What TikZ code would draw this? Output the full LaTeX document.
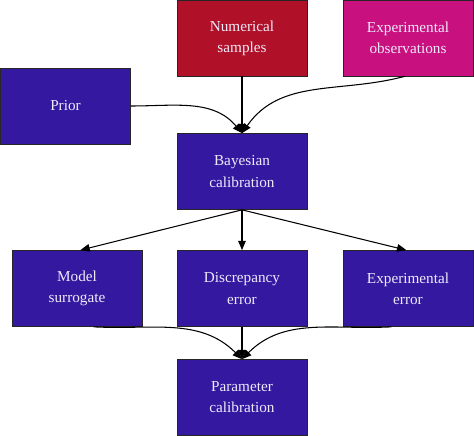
\documentclass[tikz,border=0pt]{standalone}
\usepackage{fontspec}
\setmainfont{Liberation Serif}
\usetikzlibrary{arrows.meta}

\definecolor{numred}{HTML}{B01028}
\definecolor{obsmag}{HTML}{C8107E}
\definecolor{calblue}{HTML}{3419A0}
\definecolor{boxtext}{HTML}{EEEAFA}

\tikzset{
  stage/.style={draw=black!85, line width=0.6pt, minimum width=3.9cm, minimum height=2.28cm,
    align=center, text=boxtext, font=\fontsize{13pt}{18pt}\selectfont, inner sep=0pt},
  flow/.style={line width=0.9pt, -{Triangle[length=8pt,width=6.5pt]}}
}

\begin{document}
\begin{tikzpicture}
      \useasboundingbox (0,0) rectangle (14.22,-13.08);
      % inputs
      \node[stage, fill=numred] (num) at (7.26,-1.14) {Numerical\\samples};
      \node[stage, fill=obsmag] (obs) at (12.24,-1.14) {Experimental\\observations};
      \node[stage, fill=calblue] (prior) at (1.965,-3.18) {Prior};
      \node[stage, fill=calblue] (bayes) at (7.26,-5.145) {Bayesian\\calibration};
      % error terms
      \node[stage, fill=calblue] (surr) at (2.31,-8.655) {Model\\surrogate};
      \node[stage, fill=calblue] (disc) at (7.26,-8.655) {Discrepancy\\error};
      \node[stage, fill=calblue] (experr) at (12.24,-8.655) {Experimental\\error};
      \node[stage, fill=calblue] (param) at (7.26,-11.925) {Parameter\\calibration};
      % connectors
      \draw[flow] (num) -- (bayes);
      \draw[flow] (prior.east) to[out=0,in=130] (bayes.north);
      \draw[flow] ([xshift=-0.1cm]obs.south) to[out=195,in=55] (bayes.north);
      \draw[flow] (bayes.south) -- ([xshift=0.1cm]surr.north);
      \draw[flow] (bayes) -- (disc);
      \draw[flow] (bayes.south) -- ([xshift=-0.05cm]experr.north);
      \draw[flow] ([xshift=0.5cm]surr.south) to[out=-3,in=135] (param.north);
      \draw[flow] (disc) -- (param);
      \draw[flow] ([xshift=-0.5cm]experr.south) to[out=183,in=45] (param.north);
\end{tikzpicture}
\end{document}
